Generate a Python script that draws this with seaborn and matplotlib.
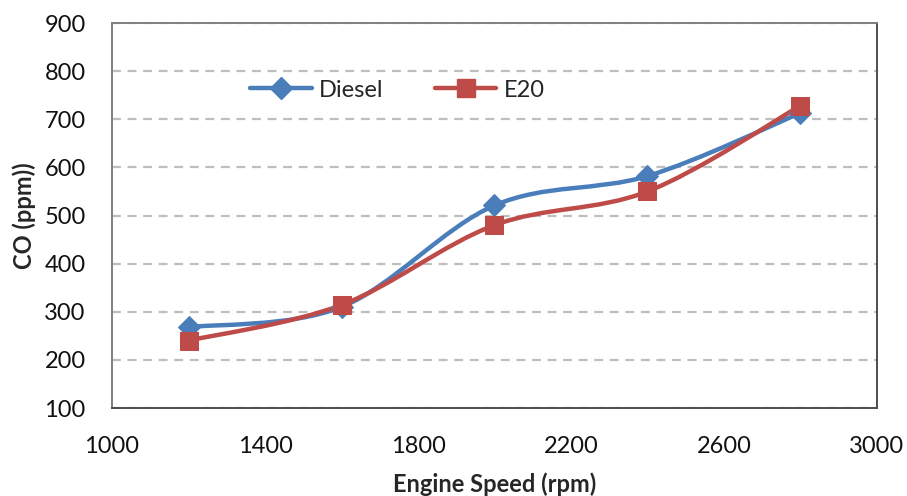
import matplotlib
matplotlib.use("Agg")
import matplotlib.pyplot as plt
import matplotlib.patches as mpatches
from matplotlib.path import Path
from matplotlib.lines import Line2D
import numpy as np
import pandas as pd
import seaborn as sns

sns.set_style("white")
plt.rcParams["font.family"] = ["Lato", "DejaVu Sans"]
fontsize = 17

speed = [1200, 1600, 2000, 2400, 2800]
diesel = [268, 310, 521, 582, 713]
e20 = [240, 314, 480, 550, 728]
fuels = ["Diesel", "E20"]

df = pd.concat([
    pd.DataFrame({"speed": speed, "co": diesel, "fuel": "Diesel"}),
    pd.DataFrame({"speed": speed, "co": e20, "fuel": "E20"}),
])

my_pal = {"Diesel": "#4A7EBB", "E20": "#BE4B48"}
my_markers = {"Diesel": "D", "E20": "s"}
my_sizes = {"Diesel": 11, "E20": 13}


def smooth_path(x, y, t=1.0 / 6):
    # Excel-like smoothed line: Catmull-Rom segments as cubic Bezier
    x = np.asarray(x, float)
    y = np.asarray(y, float)
    n = len(x)
    verts = [(x[0], y[0])]
    codes = [Path.MOVETO]
    for i in range(n - 1):
        p0 = i - 1 if i > 0 else i
        p3 = i + 2 if i + 2 < n else i + 1
        c1 = (x[i] + (x[i + 1] - x[p0]) * t, y[i] + (y[i + 1] - y[p0]) * t)
        c2 = (x[i + 1] - (x[p3] - x[i]) * t, y[i + 1] - (y[p3] - y[i]) * t)
        verts += [c1, c2, (x[i + 1], y[i + 1])]
        codes += [Path.CURVE4] * 3
    return Path(verts, codes)


fig = plt.figure(figsize=(9.07, 4.96), dpi=100)
ax = fig.add_axes([0.1235, 0.1774, 0.8434, 0.7762])

for f in fuels:
    sub = df[df["fuel"] == f]
    ax.add_patch(mpatches.PathPatch(smooth_path(sub["speed"], sub["co"]),
                                    facecolor="none", edgecolor=my_pal[f],
                                    lw=3.2, zorder=2, capstyle="round"))
    sns.lineplot(data=sub, x="speed", y="co", ax=ax, color=my_pal[f],
                 marker=my_markers[f], markersize=my_sizes[f],
                 markeredgecolor=my_pal[f], linewidth=0, zorder=3,
                 legend=False)

ax.set_xlim(1000, 3000)
ax.set_ylim(100, 900)
ax.set_xticks(range(1000, 3001, 400))
ax.set_yticks(range(100, 901, 100))
ax.yaxis.grid(True, color="#BEBEBE", linestyle=(0, (4, 3)), linewidth=1.6)
ax.set_axisbelow(True)
for s in ax.spines.values():
    s.set_color("#7F7F7F")
    s.set_linewidth(1.4)
ax.spines["bottom"].set_color("#4D4D4D")
ax.spines["right"].set_color("#4D4D4D")
ax.tick_params(axis="both", labelsize=fontsize, length=0, labelcolor="#111111")
ax.tick_params(axis="x", pad=20)
ax.tick_params(axis="y", pad=19)

ax.set_xlabel("Engine Speed (rpm)", fontsize=fontsize, fontweight="bold", labelpad=11)
ax.set_ylabel("CO (ppm))", fontsize=fontsize, fontweight="bold", labelpad=6)

handles = [Line2D([0], [0], color=my_pal[f], lw=3.2, marker=my_markers[f],
                  markersize=my_sizes[f], label=f) for f in fuels]
ax.legend(handles=handles, loc="center", bbox_to_anchor=(0.373, 0.826), ncol=2,
          frameon=False, fontsize=fontsize, handlelength=2.6,
          handletextpad=0.3, columnspacing=2.2)

fig.savefig("out.png", dpi=100)
